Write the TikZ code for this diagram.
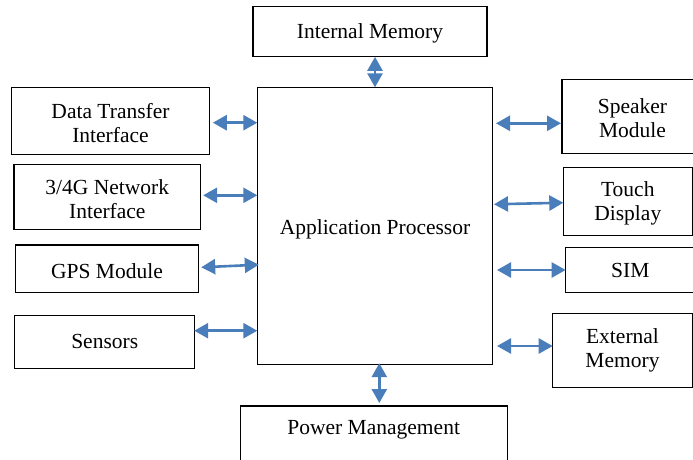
\documentclass[tikz,border=0pt]{standalone}
\usepackage{fontspec}
\setmainfont{Liberation Serif}
\usetikzlibrary{arrows.meta,calc}
\definecolor{arrblue}{HTML}{4A7EBB}
\newcommand{\lowtxt}[2][2pt]{\raisebox{-#1}[\height][\depth]{#2}}
\tikzset{
  box/.style={draw=black, line width=1.1pt, fill=white, inner sep=0pt, outer sep=0pt, align=center,
    font=\fontsize{21.5}{24}\selectfont},
  lbl/.style={inner sep=0pt, font=\fontsize{21.5}{24}\selectfont},
  biarrow/.style={draw=arrblue, line width=2.6pt, {Triangle[length=14pt,width=15pt]}-{Triangle[length=14pt,width=15pt]}, shorten <=0pt, shorten >=0pt}
}
\begin{document}
\begin{tikzpicture}[x=1pt,y=-1pt]
\useasboundingbox (0,0) rectangle (693,459);
\clip (0,0) rectangle (693,459);
\fill[white] (0,0) rectangle (693,459);
% boxes
\node[box, minimum width=234pt, minimum height=50pt] (im) at (370,31.8) {\lowtxt{Internal Memory}};
\node[box, minimum width=235.4pt, minimum height=277.4pt] (ap) at (375,226) {\lowtxt[3pt]{Application Processor}};
\node[box, minimum width=197.6pt, minimum height=66.7pt] (dt) at (110.5,120.7) {\lowtxt{Data Transfer}\\\lowtxt{Interface}};
\node[box, minimum width=186.7pt, minimum height=65pt] (net) at (107.3,196.8) {\lowtxt{3/4G Network}\\\lowtxt{Interface}};
\node[box, minimum width=183.4pt, minimum height=47.7pt] (gps) at (107,268.8) {\lowtxt{GPS Module}};
\node[box, minimum width=180pt, minimum height=52.7pt] (sen) at (104.7,341.7) {Sensors};
\node[box, minimum width=141pt, minimum height=74.3pt] (spk) at (632.5,116.2) {\lowtxt{Speaker}\\\lowtxt{Module}};
\node[box, minimum width=129pt, minimum height=67.7pt] (td) at (627.8,201.2) {\lowtxt{Touch}\\\lowtxt{Display}};
\node[box, minimum width=129.3pt, minimum height=45.4pt] (sim) at (630.3,270) {SIM};
\node[box, minimum width=139.6pt, minimum height=74.4pt] (ext) at (622.5,350.5) {External\\Memory};
\node[box, minimum width=267.3pt, minimum height=70pt, anchor=north] (pm) at (373.7,406) {};
\node[lbl] (pmt) at ($(pm.north)+(0,23.5)$) {Power Management};
% connectors
\draw[biarrow] ($(im.south)+(5,0)$) -- ($(ap.north)+(0,0)$);
\draw[biarrow] ($(dt.east)+(3.5,2)$) -- ($(ap.west)+(0,-103.3)$);
\draw[biarrow] ($(net.east)+(2.5,-1.5)$) -- ($(ap.west)+(0,-30.7)$);
\draw[biarrow] ($(gps.east)+(2.5,-1.5)$) -- ($(ap.west)+(1.5,38.7)$);
\draw[biarrow] ($(sen.east)+(-0.5,-11)$) -- ($(ap.west)+(0,104.7)$);
\draw[biarrow] ($(ap.east)+(3.3,-102.7)$) -- ($(spk.west)+(-1,7.1)$);
\draw[biarrow] ($(ap.east)+(1.3,-21.7)$) -- ($(td.west)+(0,1.5)$);
\draw[biarrow] ($(ap.east)+(4.3,44)$) -- ($(sim.west)+(0,0)$);
\draw[biarrow] ($(ap.east)+(4.3,120)$) -- ($(ext.west)+(0,-4.5)$);
\draw[biarrow] ($(ap.south)+(4.3,-1.5)$) -- ($(pm.north)+(5.6,-3)$);
\end{tikzpicture}
\end{document}
